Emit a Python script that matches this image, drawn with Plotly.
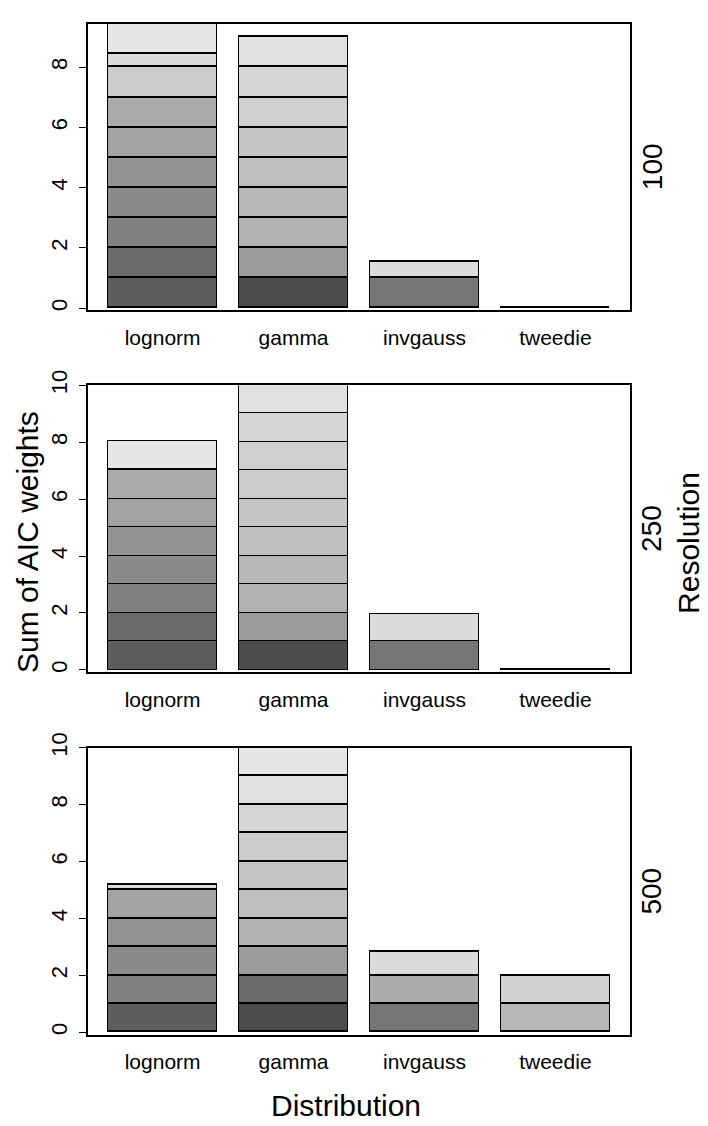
import plotly.graph_objects as go

# ---------------- data ----------------
distributions = ["lognorm", "gamma", "invgauss", "tweedie"]
resolutions = ["100", "250", "500"]
n_rep = 20

# AIC weight of each of the 20 replicates (stack rows, bottom to top) per distribution
r100_lognorm = [0, 1, 1, 0, 1, 1, 1, 0, 1, 1, 0, 0, 0, 0, 1, 0, 0, 0.46, 0, 0.98]
r100_gamma = [1, 0, 0, 0, 0, 0, 0, 1, 0, 0, 1, 1, 1, 1, 0, 1, 1, 0, 1, 0]
r100_invgauss = [0, 0, 0, 1, 0, 0, 0, 0, 0, 0, 0, 0, 0, 0, 0, 0, 0, 0.54, 0, 0]
r100_tweedie = [0, 0, 0, 0, 0, 0, 0, 0, 0, 0, 0, 0, 0, 0, 0, 0, 0, 0, 0, 0.02]

r250_lognorm = [0, 1, 1, 0, 1, 1, 1, 0, 1, 1, 0, 0, 0, 0, 0, 0, 0, 0.04, 0, 1]
r250_gamma = [1, 0, 0, 0, 0, 0, 0, 1, 0, 0, 1, 1, 1, 1, 1, 1, 1, 0, 1, 0]
r250_invgauss = [0, 0, 0, 1, 0, 0, 0, 0, 0, 0, 0, 0, 0, 0, 0, 0, 0, 0.94, 0, 0]
r250_tweedie = [0, 0, 0, 0, 0, 0, 0, 0, 0, 0, 0, 0, 0, 0, 0, 0, 0, 0.02, 0, 0]

r500_lognorm = [0, 1, 0, 0, 1, 1, 1, 0, 1, 0, 0, 0, 0, 0, 0, 0, 0, 0.17, 0, 0]
r500_gamma = [1, 0, 1, 0, 0, 0, 0, 1, 0, 0, 1, 0, 1, 1, 1, 0, 1, 0, 1, 1]
r500_invgauss = [0, 0, 0, 1, 0, 0, 0, 0, 0, 1, 0, 0, 0, 0, 0, 0, 0, 0.83, 0, 0]
r500_tweedie = [0, 0, 0, 0, 0, 0, 0, 0, 0, 0, 0, 1, 0, 0, 0, 1, 0, 0, 0, 0]

y_max = [9.44, 10, 10]
y_ticks = [[0, 2, 4, 6, 8], [0, 2, 4, 6, 8, 10], [0, 2, 4, 6, 8, 10]]

panels = [
    [r100_lognorm, r100_gamma, r100_invgauss, r100_tweedie],
    [r250_lognorm, r250_gamma, r250_invgauss, r250_tweedie],
    [r500_lognorm, r500_gamma, r500_invgauss, r500_tweedie],
]

# ---------------- style ----------------
W, H = 708, 1126
FONT = "Liberation Sans, Arial, sans-serif"


def gray_colors(n, start=0.3, end=0.9, gamma=2.2):
    a, b = start ** gamma, end ** gamma
    out = []
    for i in range(n):
        v = (a + (b - a) * i / (n - 1)) ** (1 / gamma)
        g = int(round(v * 255))
        out.append(f"rgb({g},{g},{g})")
    return out


cols = gray_colors(n_rep)
centers = [0.7 + 1.2 * i for i in range(len(distributions))]

# panel boxes in pixels (left, right, top, bottom)
box_l, box_r = 88, 630
box_tb = [(8, 299), (375, 666.5), (743, 1035)]
y_low = [-0.075, -0.09, -0.11]

fig = go.Figure()
for p, mats in enumerate(panels):
    sfx = "" if p == 0 else str(p + 1)
    for r in range(n_rep):
        fig.add_trace(go.Bar(
            x=centers,
            y=[mats[d][r] for d in range(len(distributions))],
            width=1.0,
            marker=dict(color=cols[r], line=dict(color="black", width=1.5)),
            xaxis="x" + sfx, yaxis="y" + sfx,
            showlegend=False, hoverinfo="skip",
        ))

layout = dict(
    width=W, height=H,
    margin=dict(l=0, r=0, t=0, b=0),
    paper_bgcolor="white", plot_bgcolor="white",
    barmode="stack", bargap=0,
    font=dict(family=FONT, color="black"),
    showlegend=False,
)

for p in range(3):
    sfx = "" if p == 0 else str(p + 1)
    top, bot = box_tb[p]
    layout["xaxis" + sfx] = dict(
        domain=[box_l / W, box_r / W],
        anchor="y" + sfx,
        range=[0.016, 4.984],
        tickmode="array", tickvals=centers, ticktext=distributions,
        ticks="outside", ticklen=7, tickcolor="rgba(0,0,0,0)",
        tickfont=dict(size=21, family=FONT, color="black"),
        showline=True, linecolor="black", linewidth=1.8, mirror=True,
        showgrid=False, zeroline=False, fixedrange=True,
    )
    layout["yaxis" + sfx] = dict(
        domain=[1 - bot / H, 1 - top / H],
        anchor="x" + sfx,
        range=[y_low[p], y_max[p]],
        tickmode="array", tickvals=y_ticks[p],
        ticktext=[str(v) for v in y_ticks[p]],
        ticks="outside", ticklen=7, tickwidth=1.3, tickcolor="black",
        tickangle=-90, ticklabelstandoff=3,
        tickfont=dict(size=22, family=FONT, color="black"),
        showline=True, linecolor="black", linewidth=1.8, mirror=True,
        showgrid=False, zeroline=False, fixedrange=True,
    )

fig.update_layout(**layout)

ann = []
for p, lab in enumerate(resolutions):
    top, bot = box_tb[p]
    ann.append(dict(text=lab, x=652 / W, y=1 - ((top + bot) / 2) / H,
                    xref="paper", yref="paper", showarrow=False, textangle=-90,
                    xanchor="center", yanchor="middle",
                    font=dict(size=28, family=FONT, color="black")))
ann.append(dict(text="Resolution", x=689 / W, y=1 - 535 / H,
                xref="paper", yref="paper", showarrow=False, textangle=-90,
                xanchor="center", yanchor="middle",
                font=dict(size=30, family=FONT, color="black")))
ann.append(dict(text="Sum of AIC weights", x=28 / W, y=1 - 534 / H,
                xref="paper", yref="paper", showarrow=False, textangle=-90,
                xanchor="center", yanchor="middle",
                font=dict(size=30, family=FONT, color="black")))
ann.append(dict(text="Distribution", x=346 / W, y=1 - 1106 / H,
                xref="paper", yref="paper", showarrow=False,
                xanchor="center", yanchor="middle",
                font=dict(size=30, family=FONT, color="black")))
fig.update_layout(annotations=ann)

fig.write_html("out.html", config={"displayModeBar": False})
